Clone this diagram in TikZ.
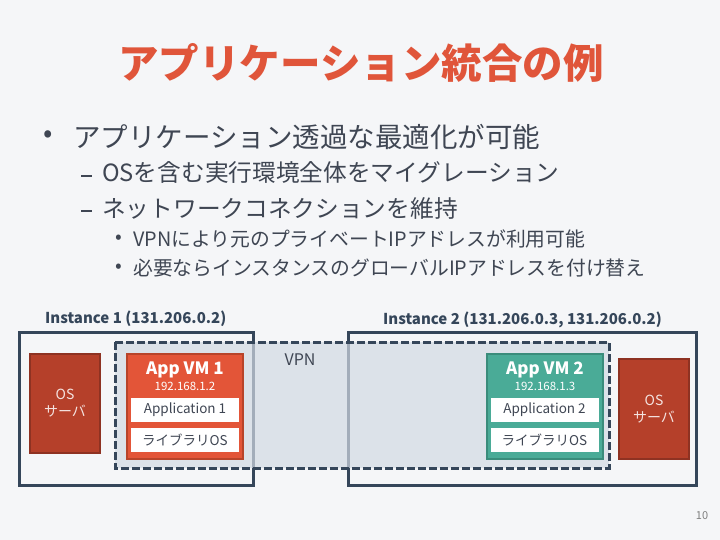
\documentclass[tikz,border=0pt]{standalone}
\usepackage{fontspec}
\setmainfont{Noto Sans CJK JP}
\definecolor{pagebg}{HTML}{F5F6F8}
\definecolor{slate}{HTML}{35465A}
\definecolor{titlered}{HTML}{E0553A}
\definecolor{bodygray}{HTML}{3F4653}
\definecolor{vpnfill}{HTML}{D2DAE3}
\definecolor{vmorange}{HTML}{E35538}
\definecolor{vmorangedk}{HTML}{B8442A}
\definecolor{osred}{HTML}{B5402A}
\definecolor{osreddk}{HTML}{8E3222}
\definecolor{vmteal}{HTML}{4AAB97}
\definecolor{vmtealdk}{HTML}{3A8C7B}

\begin{document}
\begin{tikzpicture}[x=1pt, y=-1pt,
  instbox/.style={draw=slate, line width=3pt},
  osbox/.style={draw=osreddk, fill=osred, line width=2.5pt, minimum width=70pt, minimum height=99pt},
  vmbox/.style={line width=2.5pt, minimum width=116pt, minimum height=105pt},
  layerbox/.style={fill=white, minimum width=108pt, minimum height=24pt, inner sep=0pt,
    text=bodygray, font=\fontsize{13.5}{14}\selectfont},
  vmtitle/.style={text=white, font=\fontsize{17}{18}\selectfont\bfseries},
  vmaddr/.style={text=white, font=\fontsize{11.5}{12}\selectfont},
  ostext/.style={text=white!85!osred, font=\fontsize{14}{17}\selectfont, align=center},
  instlabel/.style={anchor=west, text=slate, font=\fontsize{15}{16}\selectfont\bfseries},
  dashmark/.style={fill=bodygray, minimum width=11pt, minimum height=2.6pt, inner sep=0pt},
  lvone/.style={anchor=west, text=bodygray, font=\fontsize{27.5}{30}\selectfont},
  lvtwo/.style={anchor=west, text=bodygray, font=\fontsize{23.7}{26}\selectfont},
  lvthree/.style={anchor=west, text=bodygray, font=\fontsize{19.8}{22}\selectfont}]
  % page
  \fill[pagebg] (0,0) rectangle (720,540);
  \useasboundingbox (0,0) rectangle (720,540);

  % title and bullets
  \node[text=titlered, font=\fontsize{40.5}{42}\selectfont\bfseries] (title) at (361,63) {アプリケーション統合の例};
  \node[lvone, inner sep=0pt] (b1) at (43,137) {•};
  \node[lvone, inner sep=0pt] (t1) at (73,137) {アプリケーション透過な最適化が可能};
  \node[dashmark] (b2) at (86,176) {};
  \node[lvtwo, inner sep=0pt] (t2) at (102,173) {OSを含む実行環境全体をマイグレーション};
  \node[dashmark] (b3) at (86,211) {};
  \node[lvtwo, inner sep=0pt] (t3) at (102,208) {ネットワークコネクションを維持};
  \node[lvthree, inner sep=0pt] (b4) at (115,239) {•};
  \node[lvthree, inner sep=0pt] (t4) at (133,239) {VPNにより元のプライベートIPアドレスが利用可能};
  \node[lvthree, inner sep=0pt] (b5) at (115,268) {•};
  \node[lvthree, inner sep=0pt] (t5) at (133,268) {必要ならインスタンスのグローバルIPアドレスを付け替え};

  % instances
  \node[instlabel, inner sep=0pt] (inst1lbl) at (45,319) {Instance 1 (131.206.0.2)};
  \node[instlabel, inner sep=0pt] (inst2lbl) at (383,320) {Instance 2 (131.206.0.3, 131.206.0.2)};
  \draw[instbox] (19,332) rectangle (253,485);
  \draw[instbox] (348,332) rectangle (696,485);

  % VPN region
  \fill[vpnfill, fill opacity=0.7] (115,342) rectangle (609,468);
  \draw[slate, line width=3pt, dash pattern=on 8pt off 3pt] (115,342) rectangle (609,468);
  \node[text=bodygray, font=\fontsize{16}{18}\selectfont] (vpn) at (300,360) {VPN};

  % OS servers
  \node[osbox] (os1) at (65,403.5) {};
  \node[ostext] at (os1) {OS\\サーバ};
  \node[osbox, minimum height=100pt] (os2) at (654,409) {};
  \node[ostext] at (os2) {OS\\サーバ};

  % VM 1
  \node[vmbox, draw=vmorangedk, fill=vmorange] (vm1) at (185,406.5) {};
  \node[vmtitle] (vm1name) at (185,370) {App VM 1};
  \node[vmaddr] (vm1ip) at (185,386) {192.168.1.2};
  \node[layerbox] (app1) at (185,409.5) {Application 1};
  \node[layerbox] (lib1) at (185,439.5) {ライブラリOS};

  % VM 2
  \node[vmbox, draw=vmtealdk, fill=vmteal] (vm2) at (545,406.5) {};
  \node[vmtitle] (vm2name) at (545,370) {App VM 2};
  \node[vmaddr] (vm2ip) at (545,386) {192.168.1.3};
  \node[layerbox] (app2) at (544.5,409.5) {Application 2};
  \node[layerbox] (lib2) at (544.5,439.5) {ライブラリOS};

  % page number
  \node[text=gray, font=\fontsize{11}{12}\selectfont] (pageno) at (702,516) {10};
\end{tikzpicture}
\end{document}
